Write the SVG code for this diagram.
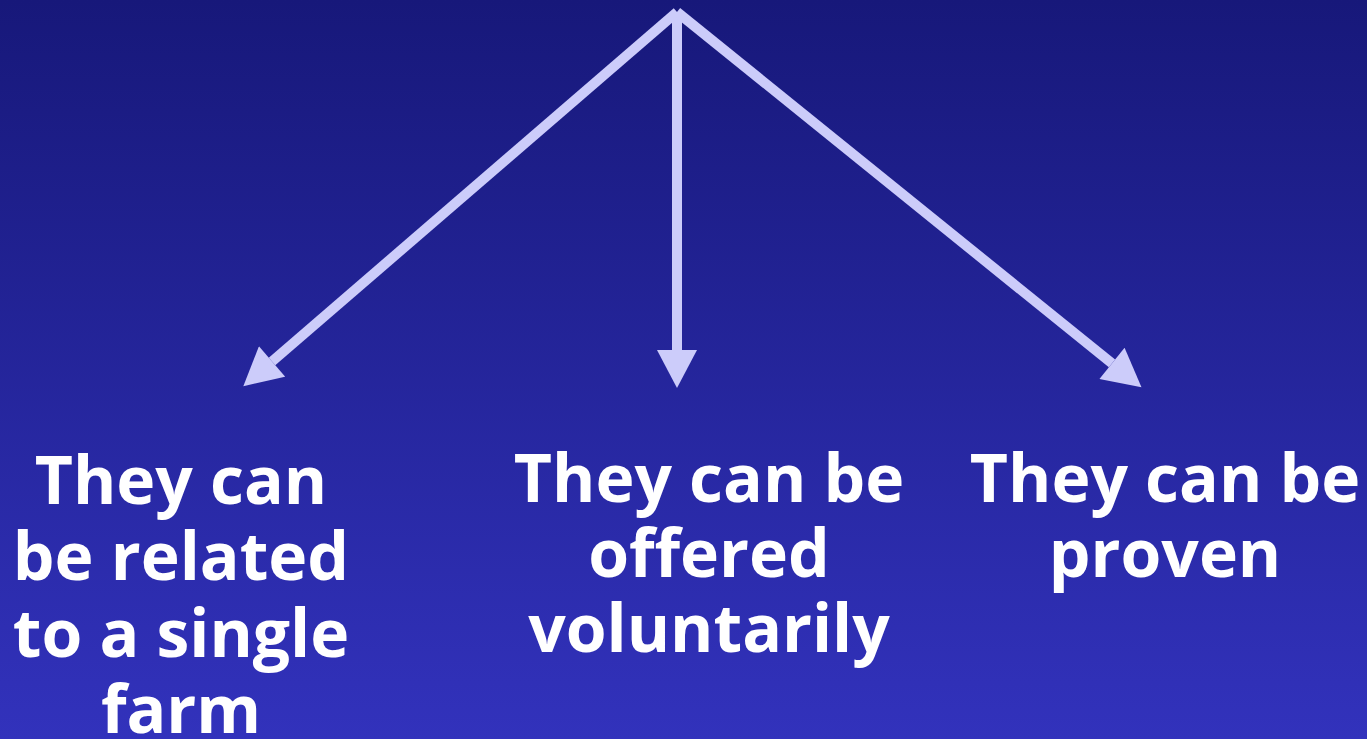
<svg xmlns="http://www.w3.org/2000/svg" width="1367" height="739" viewBox="0 0 1367 739">
<defs>
<linearGradient id="bg" x1="0" y1="0" x2="0" y2="1">
<stop offset="0" stop-color="#17187a"/>
<stop offset="1" stop-color="#3232bc"/>
</linearGradient>
<marker id="head" markerUnits="userSpaceOnUse" markerWidth="40" markerHeight="40" refX="0" refY="19" orient="auto" viewBox="0 0 36 38">
<polygon points="0,0 36,19 0,38" fill="#ccccfa"/>
</marker>
<style>
.conn{stroke:#ccccfa;stroke-width:10;fill:none;stroke-linecap:butt;marker-end:url(#head)}
.lbl{font-family:"Open Sans","Noto Sans","Liberation Sans",sans-serif;font-weight:bold;font-size:66px;fill:#ffffff;text-anchor:middle}
</style>
</defs>
<rect width="1367" height="739" fill="url(#bg)"/>
<g id="connectors">
<line class="conn" x1="677" y1="12" x2="272" y2="361.5"/>
<line class="conn" x1="677" y1="12" x2="677" y2="350"/>
<line class="conn" x1="677" y1="12" x2="1112" y2="363.4"/>
</g>
<g id="node-left">
<text class="lbl" x="181" y="504">They can</text>
<text class="lbl" x="181" y="580">be related</text>
<text class="lbl" x="181" y="657">to a single</text>
<text class="lbl" x="181" y="733">farm</text>
</g>
<g id="node-middle">
<text class="lbl" x="709" y="502">They can be</text>
<text class="lbl" x="709" y="577">offered</text>
<text class="lbl" x="709" y="652">voluntarily</text>
</g>
<g id="node-right">
<text class="lbl" x="1165" y="502">They can be</text>
<text class="lbl" x="1165" y="577">proven</text>
</g>
</svg>
